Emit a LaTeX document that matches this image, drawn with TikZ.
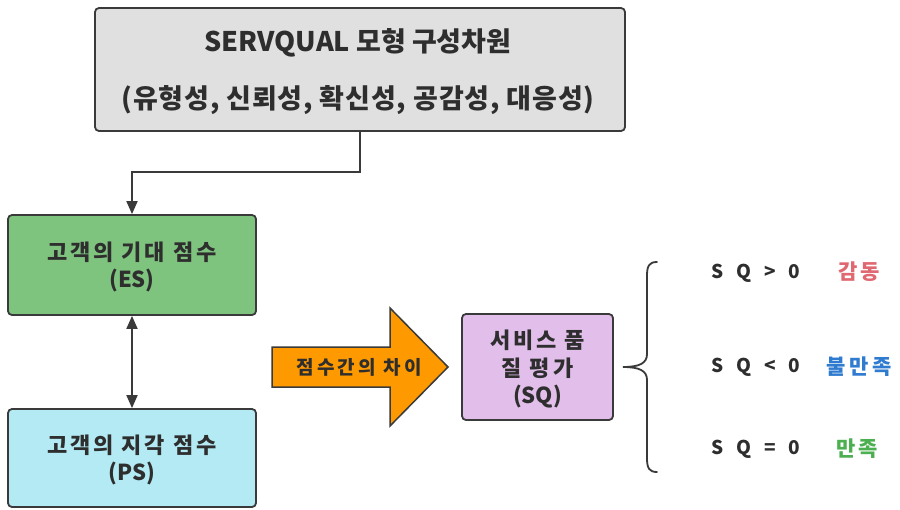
\documentclass[tikz,border=0pt]{standalone}
\usepackage{fontspec}
\setmainfont{Noto Sans CJK KR}
\usetikzlibrary{arrows.meta}
\definecolor{boxgray}{HTML}{E0E0E0}
\definecolor{esgreen}{HTML}{7EC47F}
\definecolor{pscyan}{HTML}{B3EAF3}
\definecolor{sqpurple}{HTML}{E2BEEA}
\definecolor{arroworange}{HTML}{FF9900}
\definecolor{edgegray}{HTML}{3A3A3A}
\definecolor{txtgray}{HTML}{2E2E2E}
\definecolor{redtxt}{HTML}{E06870}
\definecolor{bluetxt}{HTML}{2F7BD0}
\definecolor{greentxt}{HTML}{4CAF50}
\tikzset{
  card/.style={draw=edgegray, line width=1.8pt, rounded corners=4pt, inner sep=0pt},
  tx/.style={text=txtgray, inner sep=0pt},
  bigtip/.tip={Triangle[length=13pt,width=11pt]},
  conn/.style={draw=edgegray, line width=1.8pt},
  sqlbl/.style={tx, font=\bfseries\fontsize{19}{21}\selectfont},
  res/.style={inner sep=0pt, font=\bfseries\fontsize{21}{23}\selectfont\addfontfeatures{LetterSpace=16}},
  boxtxt/.style={tx, font=\bfseries\fontsize{22}{25}\selectfont\addfontfeatures{LetterSpace=13}},
  boxabbr/.style={tx, font=\bfseries\fontsize{22}{25}\selectfont},
  titletxt/.style={tx, font=\bfseries\fontsize{27}{29}\selectfont},
}
\newcommand{\sqsp}{\hspace{13pt}}
\begin{document}
\begin{tikzpicture}[x=1pt,y=-1pt]
\useasboundingbox (0,0) rectangle (900,509);
\fill[white] (0,0) rectangle (900,509);
% top box
\node[card, fill=boxgray, minimum width=530pt, minimum height=123pt] (top) at (360,69.5) {};
\node[titletxt] (t1) at (358,43) {SERVQUAL 모형 구성차원};
\node[titletxt, font=\bfseries\fontsize{27}{29}\selectfont\addfontfeatures{LetterSpace=3}] (t2) at (358,100) {(유형성, 신뢰성, 확신성, 공감성, 대응성)};
% ES box
\node[card, fill=esgreen, minimum width=248pt, minimum height=100pt] (es) at (132,265) {};
\node[boxtxt] (es1) at (132,252) {고객의 기대 점수};
\node[boxabbr] (es2) at (132,280) {(ES)};
% PS box
\node[card, fill=pscyan, minimum width=248pt, minimum height=98pt] (ps) at (132,458) {};
\node[boxtxt] (ps1) at (132,445) {고객의 지각 점수};
\node[boxabbr] (ps2) at (132,473) {(PS)};
% SQ box
\node[card, fill=sqpurple, minimum width=151pt, minimum height=106pt] (sq) at (537.5,367) {};
\node[boxtxt] (sq1) at (537.5,340) {서비스 품};
\node[boxtxt] (sq2) at (537.5,368) {질 평가};
\node[boxabbr] (sq3) at (537.5,397) {(SQ)};
% connectors
\coordinate (bend1) at (360,172);
\coordinate (bend2) at (132,172);
\draw[conn, -{bigtip}] (top.south -| bend1) -- (bend1) -- (bend2) -- (es.north);
\draw[conn, {bigtip}-{bigtip}] (es.south) -- (ps.north);
% big orange arrow
\draw[draw=edgegray, line width=1.5pt, fill=arroworange, line join=miter]
  (272,347) -- (390,347) -- (390,308) -- (448,367) -- (390,426) -- (390,387) -- (272,387) -- cycle;
\node[tx, font=\bfseries\fontsize{19}{21}\selectfont\addfontfeatures{LetterSpace=17}] (difftxt) at (359,367) {점수간의 차이};
% brace
\draw[conn, line cap=round]
  (657,262) .. controls (649,262) and (647,266) .. (647,276) -- (647,354)
  .. controls (647,363) and (640,367) .. (623,367)
  .. controls (640,367) and (647,371) .. (647,380) -- (647,458)
  .. controls (647,468) and (649,472) .. (657,472);
% result labels
\node[sqlbl, anchor=west] (c1) at (711,273) {S\sqsp Q\sqsp >\sqsp 0};
\node[sqlbl, anchor=west] (c2) at (711,367) {S\sqsp Q\sqsp <\sqsp 0};
\node[sqlbl, anchor=west] (c3) at (711,449) {S\sqsp Q\sqsp =\sqsp 0};
\node[res, text=redtxt] (r1) at (859,272) {감동};
\node[res, text=bluetxt] (r2) at (859,367) {불만족};
\node[res, text=greentxt] (r3) at (857,449) {만족};
\end{tikzpicture}
\end{document}
